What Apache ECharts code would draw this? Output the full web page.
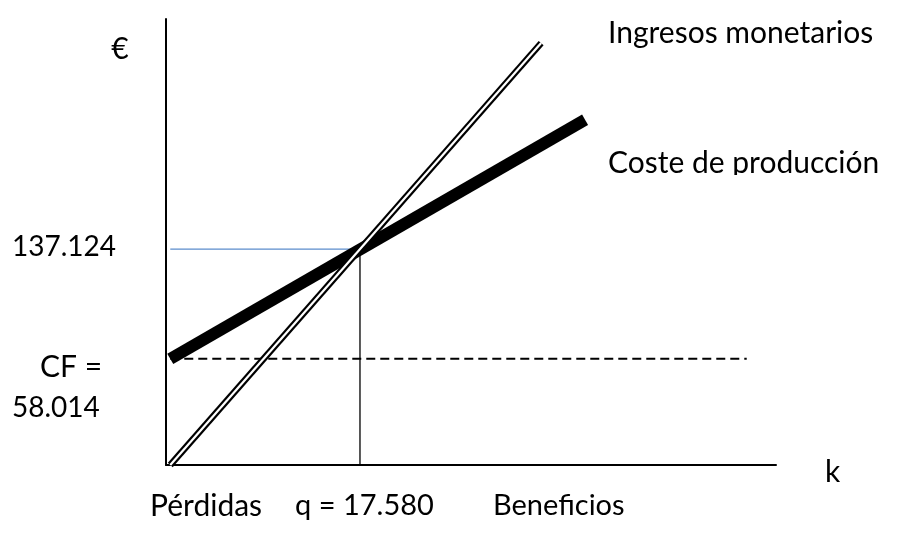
<!DOCTYPE html>
<html>
<head>
<meta charset="utf-8">
<script src="https://cdn.jsdelivr.net/npm/echarts@6/dist/echarts.min.js"></script>
<style>
html,body{margin:0;padding:0;background:#fff;}
#c{width:912px;height:550px;}
</style>
</head>
<body>
<div id="c"></div>
<script>
// Schematic break-even chart (values in relative plot units)
var ingresos = [[0.7, 0], [61.5, 94.6]];          // Ingresos monetarios
var coste = [[0.7, 23.8], [68.7, 77.4]];           // Coste de producción
var costeFijo = [[0.7, 23.8], [95.2, 23.8]];       // CF dashed line
var guiaHorizontal = [[0.7, 48.4], [31.8, 48.4]];  // 137.124 guide
var guiaVertical = [[31.8, 0], [31.8, 48.4]];      // q guide
var textos = {
  euro: '€', ingresos: 'Ingresos monetarios', coste: 'Coste de producción',
  ingresoEq: '137.124', cf1: 'CF =', cf2: '58.014', k: 'k',
  perdidas: 'Pérdidas', q: 'q = 17.580', beneficios: 'Beneficios'
};

var FONT = 'Lato';
function txt(t, x, y, align, fs) {
  return {type: 'text', x: x, y: y, silent: true, z: 10,
    style: {text: t, font: (fs || 30) + 'px ' + FONT, fill: '#000', align: align || 'left', verticalAlign: 'middle'}};
}
var chart = echarts.init(document.getElementById('c'), null, {renderer: 'canvas'});
chart.setOption({
  animation: false,
  backgroundColor: '#fff',
  grid: {left: 166, right: 136, top: 19, bottom: 85},
  xAxis: {type: 'value', min: 0, max: 100, axisLine: {show: true, lineStyle: {color: '#000', width: 2}},
    axisTick: {show: false}, axisLabel: {show: false}, splitLine: {show: false}},
  yAxis: {type: 'value', min: 0, max: 100, axisLine: {show: true, lineStyle: {color: '#000', width: 2}},
    axisTick: {show: false}, axisLabel: {show: false}, splitLine: {show: false}},
  series: [
    {type: 'line', data: costeFijo, symbol: 'none', silent: true, z: 1,
      lineStyle: {color: '#000', width: 2, type: [9, 5]}},
    {type: 'line', data: guiaHorizontal, symbol: 'none', silent: true, z: 1,
      lineStyle: {color: '#5b8ccc', width: 1.2}},
    {type: 'line', data: guiaVertical, symbol: 'none', silent: true, z: 1,
      lineStyle: {color: '#000', width: 1.3}},
    {type: 'line', data: coste, symbol: 'none', silent: true, z: 2,
      lineStyle: {color: '#000', width: 12, cap: 'butt'}},
    {type: 'line', data: ingresos, symbol: 'none', silent: true, z: 3,
      lineStyle: {color: '#000', width: 6.5, cap: 'butt'}},
    {type: 'line', data: ingresos, symbol: 'none', silent: true, z: 4,
      lineStyle: {color: '#fff', width: 2.2, cap: 'butt'}}
  ],
  graphic: {elements: [
    txt(textos.euro, 120, 49, 'center'),
    txt(textos.ingresos, 608, 33),
    txt(textos.coste, 608, 163),
    {type: 'rect', x: 0, y: 0, z: 11, shape: {x: 598, y: 175, width: 300, height: 18}, silent: true, style: {fill: '#fff'}},
    txt(textos.ingresoEq, 12, 247, 'left', 28),
    txt(textos.cf1, 40, 367),
    txt(textos.cf2, 12, 408, 'left', 28),
    txt(textos.k, 825, 472),
    txt(textos.perdidas, 150, 506),
    txt(textos.q, 295, 506, 'left', 29),
    txt(textos.beneficios, 493, 506, 'left', 29)
  ]}
});
</script>
</body>
</html>
